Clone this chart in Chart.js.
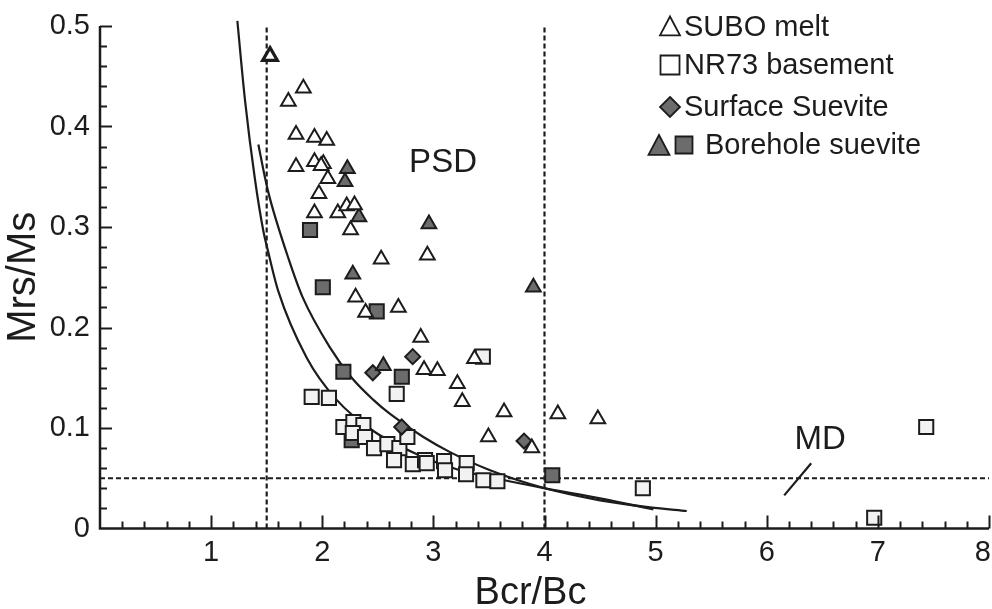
<!DOCTYPE html>
<html>
<head>
<meta charset="utf-8">
<script src="https://cdn.jsdelivr.net/npm/chart.js@4"></script>
<style>
  html, body { margin: 0; padding: 0; background: #fff; overflow: hidden; }
  #wrap { width: 992px; height: 609px; position: relative; overflow: hidden; }
  canvas { display: block; }
</style>
</head>
<body>
<div id="wrap"><canvas id="day-chart"></canvas></div>
<script>
/* Data */
const suboX = [1.53, 1.83, 1.695, 1.764, 1.93, 2.04, 1.764, 1.93, 2.01, 1.99, 2.05, 1.97, 1.93, 2.14, 2.22, 2.29,
  2.255, 2.53, 2.946, 2.30, 2.39, 2.685, 2.886, 2.916, 3.036, 3.216, 3.37, 3.26, 3.636, 3.495, 3.886, 4.12, 4.48];
const suboY = [0.470, 0.438, 0.425, 0.392, 0.389, 0.386, 0.360, 0.365, 0.363, 0.361, 0.348, 0.333, 0.314, 0.314, 0.321, 0.322,
  0.297, 0.268, 0.272, 0.230, 0.215, 0.220, 0.190, 0.158, 0.157, 0.144, 0.169, 0.126, 0.116, 0.091, 0.080, 0.114, 0.109];

const nr73X = [1.905, 2.06, 2.67, 2.19, 2.28, 2.37, 2.275, 2.385, 2.466, 2.586, 2.694, 2.766, 2.646, 2.815, 2.925, 2.94,
  3.096, 3.105, 3.30, 3.294, 3.45, 3.576, 3.445, 4.885, 6.967, 7.435];
const nr73Y = [0.131, 0.130, 0.134, 0.101, 0.106, 0.103, 0.095, 0.091, 0.080, 0.084, 0.080, 0.091, 0.068, 0.064, 0.068, 0.065,
  0.067, 0.058, 0.065, 0.054, 0.048, 0.047, 0.171, 0.040, 0.0107, 0.101];

const surfaceX = [2.814, 2.455, 2.715, 3.816];
const surfaceY = [0.171, 0.155, 0.101, 0.087];

const boreTriX = [2.226, 2.205, 2.33, 2.96, 2.275, 2.55, 3.90];
const boreTriY = [0.358, 0.345, 0.310, 0.303, 0.253, 0.162, 0.240];

const boreSqX = [1.89, 2.005, 2.49, 2.19, 2.716, 4.07, 2.265];
const boreSqY = [0.297, 0.240, 0.216, 0.156, 0.151, 0.053, 0.088];

// the two mixing curves
const curveAX = [1.236, 1.305, 1.395, 1.47, 1.512, 1.602, 1.86, 2.13, 2.46, 2.85, 3.21, 3.60, 4.005, 4.50, 4.98];
const curveAY = [0.505, 0.426, 0.347, 0.296, 0.276, 0.237, 0.170, 0.128, 0.097, 0.074, 0.059, 0.049, 0.040, 0.030, 0.019];
const curveBX = [1.425, 1.485, 1.53, 1.695, 1.82, 2.07, 2.265, 2.46, 2.61, 2.91, 3.15, 3.51, 4.005, 4.50, 4.95, 5.28];
const curveBY = [0.382, 0.349, 0.328, 0.269, 0.231, 0.180, 0.150, 0.128, 0.114, 0.091, 0.076, 0.058, 0.040, 0.028, 0.021, 0.0174];

// domain boundaries
const psdLeft = 1.5;
const psdRight = 4;
const mdLimit = 0.05;
const mdTickX = [6.157, 6.40];
const mdTickY = [0.033, 0.065];

const xTicks = [1, 2, 3, 4, 5, 6, 7, 8];
const xTickLabels = ['1', '2', '3', '4', '5', '6', '7', '8'];
const yTicks = [0, 0.1, 0.2, 0.3, 0.4, 0.5];
const yTickLabels = ['0', '0.1', '0.2', '0.3', '0.4', '0.5'];

const pts = (xs, ys) => xs.map((x, i) => ({x: x, y: ys[i]}));

const ink = '#1c1c1c';
const darkFill = '#6c6c6c';
const lightFill = '#f2f2f2';
const font = 'Liberation Sans, Arial, sans-serif';

// Axes with inward ticks + annotations + legend
const decorate = {
  id: 'decorate',
  afterDatasetsDraw(chart) {
    const {ctx, chartArea: a, scales: {x, y}} = chart;
    ctx.save();
    ctx.strokeStyle = ink;
    ctx.lineWidth = 2.5;
    ctx.beginPath();
    ctx.moveTo(a.left, a.top);
    ctx.lineTo(a.left, a.bottom);
    ctx.lineTo(a.right, a.bottom);
    ctx.stroke();
    ctx.lineWidth = 2;
    ctx.beginPath();
    for (let i = 1; i <= 40; i++) {
      const px = Math.round(x.getPixelForValue(i * 0.2)) + 0.5;
      const len = i % 5 === 0 ? 13 : 7;
      ctx.moveTo(px, a.bottom);
      ctx.lineTo(px, a.bottom - len);
    }
    for (let i = 1; i <= 25; i++) {
      const py = Math.round(y.getPixelForValue(i * 0.02)) + 0.5;
      const len = i % 5 === 0 ? 12 : 7;
      ctx.moveTo(a.left, py);
      ctx.lineTo(a.left + len, py);
    }
    ctx.stroke();

    // x tick labels, last one kept inside the canvas
    ctx.fillStyle = ink;
    ctx.font = '29px ' + font;
    ctx.textAlign = 'center';
    ctx.textBaseline = 'middle';
    xTicks.forEach((v, i) => {
      const half = ctx.measureText(xTickLabels[i]).width / 2;
      const px = Math.min(x.getPixelForValue(v), chart.width - half - 1);
      ctx.fillText(xTickLabels[i], px, a.bottom + 24);
    });

    // region labels
    ctx.font = '33px ' + font;
    ctx.fillText('PSD', x.getPixelForValue(3.087), y.getPixelForValue(0.364));
    ctx.fillText('MD', x.getPixelForValue(6.48), y.getPixelForValue(0.088));

    // x axis title (sits a little left of centre in the original)
    ctx.font = '38px ' + font;
    ctx.textBaseline = 'alphabetic';
    ctx.fillText('Bcr/Bc', (a.left + a.right) / 2 - 14, 604);

    // legend
    ctx.textAlign = 'left';
    ctx.textBaseline = 'middle';
    ctx.font = '29px ' + font;
    ctx.lineWidth = 1.8;
    const tri = (cx, cy, r, fill) => {
      ctx.beginPath();
      ctx.moveTo(cx, cy - r);
      ctx.lineTo(cx + r * 0.95, cy + r * 0.8);
      ctx.lineTo(cx - r * 0.95, cy + r * 0.8);
      ctx.closePath();
      ctx.fillStyle = fill; ctx.fill(); ctx.stroke();
    };
    const sq = (cx, cy, h, fill) => {
      ctx.beginPath();
      ctx.rect(cx - h, cy - h, 2 * h, 2 * h);
      ctx.fillStyle = fill; ctx.fill(); ctx.stroke();
    };
    const dia = (cx, cy, r, fill) => {
      ctx.beginPath();
      ctx.moveTo(cx, cy - r); ctx.lineTo(cx + r, cy);
      ctx.lineTo(cx, cy + r); ctx.lineTo(cx - r, cy);
      ctx.closePath();
      ctx.fillStyle = fill; ctx.fill(); ctx.stroke();
    };
    const lx = 670;
    tri(lx, 27, 10.5, '#fff');
    sq(lx, 65, 9.5, '#fff');
    dia(lx, 107, 10, darkFill);
    tri(659, 146, 11, darkFill);
    sq(684, 145, 8.5, darkFill);
    ctx.fillStyle = ink;
    ctx.fillText('SUBO melt', 684, 28);
    ctx.fillText('NR73 basement', 684, 66);
    ctx.fillText('Surface Suevite', 684, 108);
    ctx.fillText('Borehole suevite', 705, 146);
    ctx.restore();
  }
};

const guide = (data, dash) => ({
  type: 'line', data: data, showLine: true, pointRadius: 0, borderColor: ink,
  borderWidth: 2.2, borderDash: dash, fill: false, order: 10, clip: false
});

const data = {
  datasets: [
    Object.assign(guide(pts(curveAX, curveAY), []), {cubicInterpolationMode: 'monotone'}),
    Object.assign(guide(pts(curveBX, curveBY), []), {cubicInterpolationMode: 'monotone'}),
    guide([{x: psdLeft, y: 0}, {x: psdLeft, y: 0.5}], [5, 3]),
    guide([{x: psdRight, y: 0}, {x: psdRight, y: 0.5}], [5, 3]),
    guide([{x: 0, y: mdLimit}, {x: 8, y: mdLimit}], [5, 3]),
    guide(pts(mdTickX, mdTickY), []),
    {
      label: 'Borehole suevite', data: pts(boreSqX, boreSqY), pointStyle: 'rect', pointRadius: 10,
      backgroundColor: darkFill, borderColor: ink, borderWidth: 2, order: 5
    },
    {
      label: 'NR73 basement', data: pts(nr73X, nr73Y), pointStyle: 'rect', pointRadius: 10,
      backgroundColor: lightFill, borderColor: ink, borderWidth: 2, order: 4
    },
    {
      label: 'Surface Suevite', data: pts(surfaceX, surfaceY), pointStyle: 'rectRot', pointRadius: 7.5,
      backgroundColor: darkFill, borderColor: ink, borderWidth: 2, order: 3
    },
    {
      label: 'Borehole suevite', data: pts(boreTriX, boreTriY), pointStyle: 'triangle', pointRadius: 8.5,
      backgroundColor: darkFill, borderColor: ink, borderWidth: 2, order: 2
    },
    {
      label: 'SUBO melt', data: pts(suboX, suboY), pointStyle: 'triangle', pointRadius: 8.5,
      backgroundColor: '#fff', borderColor: ink,
      borderWidth: c => c.dataIndex === 0 ? 3.2 : 2, order: 1
    }
  ]
};

const noPad = s => { s.paddingLeft = 0; s.paddingRight = 0; s.paddingTop = 0; s.paddingBottom = 0; };

const config = {
  type: 'scatter',
  data: data,
  options: {
    responsive: true,
    maintainAspectRatio: false,
    animation: false,
    layout: { autoPadding: false, padding: { top: 26, right: 3, left: 0, bottom: 0 } },
    plugins: { legend: { display: false }, tooltip: { enabled: false } },
    scales: {
      x: {
        type: 'linear', min: 0, max: 8,
        grid: { display: false, drawTicks: false },
        border: { display: false },
        afterBuildTicks: s => { s.ticks = xTicks.map(v => ({value: v})); },
        afterFit: s => { s.height = 80.5; noPad(s); },
        ticks: { display: false },
        title: { display: false }
      },
      y: {
        type: 'linear', min: 0, max: 0.5,
        grid: { display: false, drawTicks: false },
        border: { display: false },
        afterBuildTicks: s => { s.ticks = yTicks.map(v => ({value: v})); },
        afterFit: s => { s.width = 100; noPad(s); },
        ticks: {
          padding: 10, color: ink, font: { family: font, size: 29 },
          callback: (v) => yTickLabels[yTicks.findIndex(t => Math.abs(t - v) < 1e-9)]
        },
        title: {
          display: true, text: 'Mrs/Ms', color: ink,
          font: { family: font, size: 40, lineHeight: 1 }, padding: { top: 4, bottom: 0 }
        }
      }
    }
  },
  plugins: [decorate]
};

// Chart Activation
let ctx = document.getElementById('day-chart').getContext('2d');
let magChart = new Chart(ctx, config);
</script>
</body>
</html>
